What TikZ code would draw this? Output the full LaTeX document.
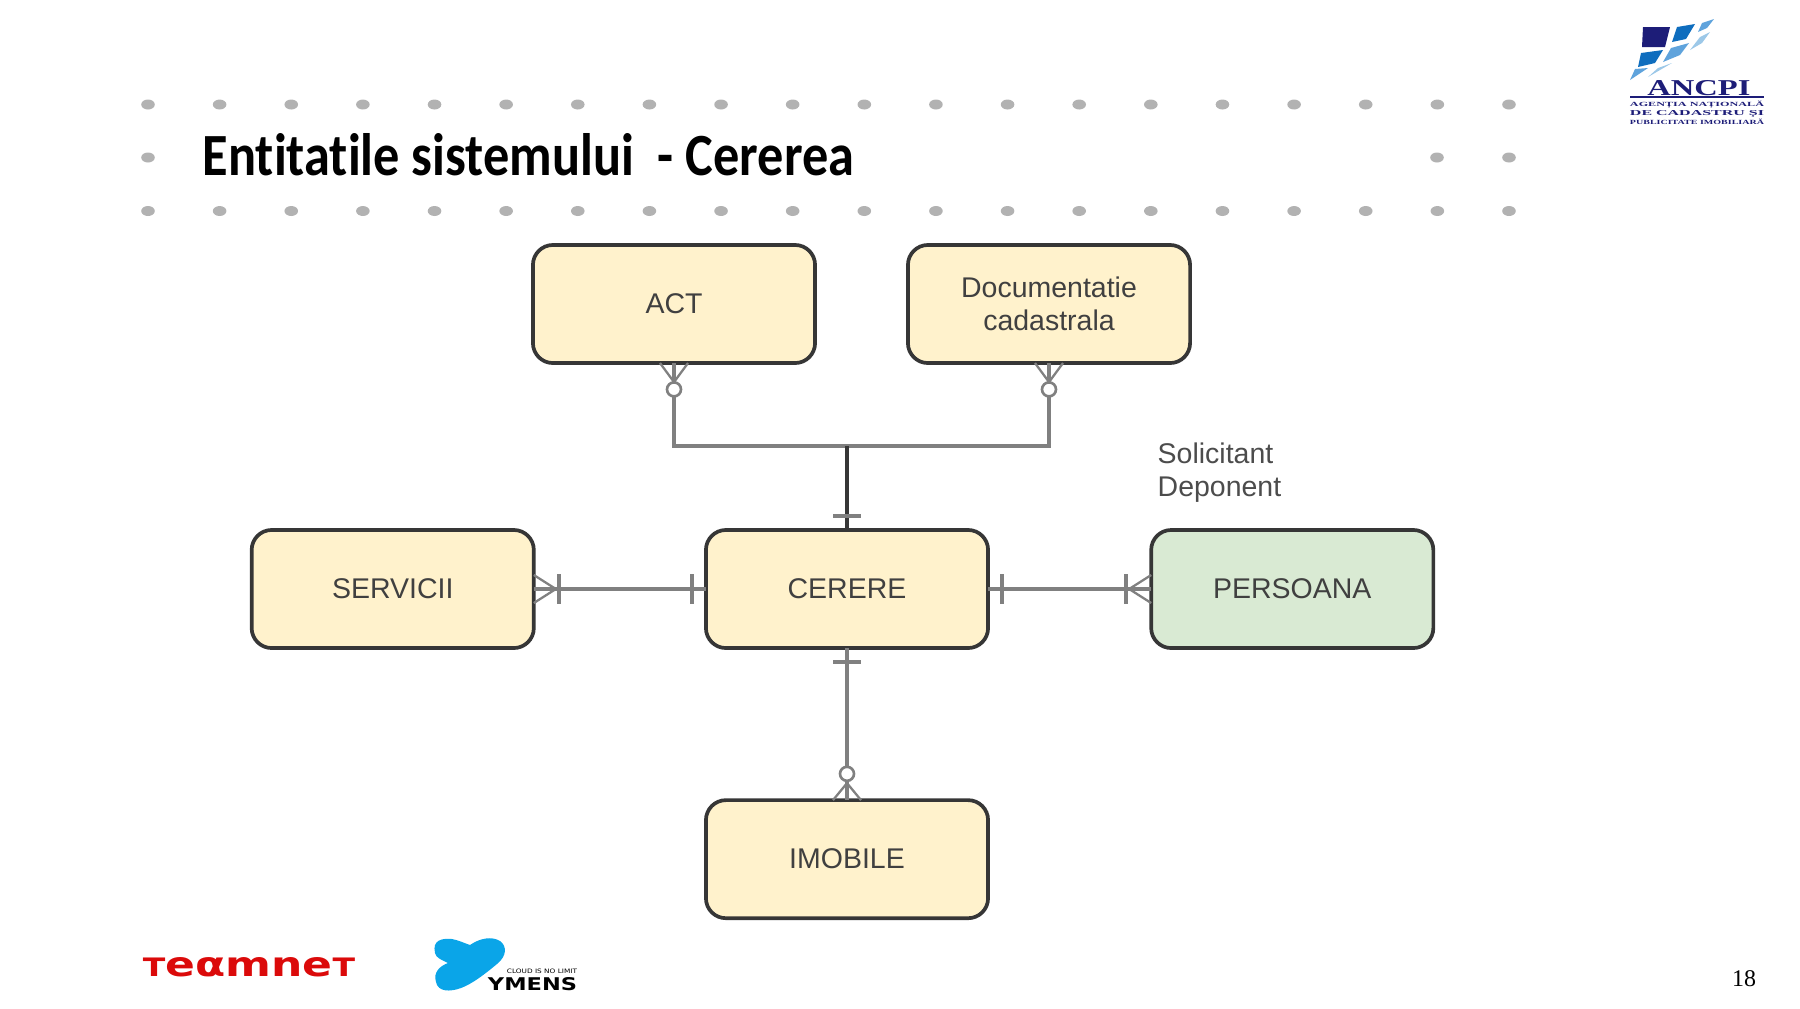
\documentclass[tikz,border=0pt]{standalone}
\usepackage{fontspec}
\setmainfont{Liberation Sans}
\newfontfamily\titlefont[Ligatures=NoCommon]{Carlito}
\newfontfamily\logofont{Liberation Serif}
\newfontfamily\wordfont{DejaVu Sans}
\usetikzlibrary{calc,positioning,arrows.meta}
\definecolor{entityfill}{HTML}{FFF2CC}
\definecolor{personfill}{HTML}{D9EAD3}
\definecolor{entityline}{HTML}{363636}
\definecolor{relline}{HTML}{808080}
\definecolor{dotgray}{HTML}{B2B2B2}
\definecolor{navyblue}{HTML}{1D1D78}
\definecolor{midblue}{HTML}{0E6DBE}
\definecolor{softblue}{HTML}{5FA3DC}
\definecolor{paleblue}{HTML}{9CC8E8}
\definecolor{teamred}{HTML}{DB0A0A}
\definecolor{ymensblue}{HTML}{0AA5E8}

\begin{document}
\begin{tikzpicture}[x=0.01cm, y=-0.01cm, font=\fontsize{8.1}{9.5}\selectfont,
  entity/.style={draw=entityline, line width=1.05pt, rounded corners=0.2cm, fill=entityfill,
    minimum width=2.82cm, minimum height=1.18cm, align=center, inner sep=0pt, outer sep=0pt, text=black!75},
  rel/.style={draw=relline, line width=1pt},
  mainrel/.style={draw=entityline, line width=1.1pt},
  foot/.style={draw=relline, line width=0.65pt},
  bar/.style={draw=relline, line width=1pt},
  ring/.style={circle, draw=relline, fill=white, line width=0.75pt, minimum size=0.14cm, inner sep=0pt},
  logotext/.style={inner sep=0pt, outer sep=0pt}]
  \useasboundingbox (0,0) rectangle (1800,1008);

  % dots round the title
  \foreach \i in {0,...,19} {
    \fill[dotgray] (148+71.63*\i,104.5) ellipse (6.8 and 5);
    \fill[dotgray] (148+71.63*\i,211) ellipse (6.8 and 5);
  }
  \foreach \xx in {148,1437,1509} {\fill[dotgray] (\xx,157.5) ellipse (6.8 and 5);}
  \node[anchor=base west, inner sep=0pt, font=\titlefont\bfseries\fontsize{17}{20}\selectfont] (title) at (202,175)
    {\resizebox{6.51cm}{.42cm}{Entitatile sistemului\ \ - Cererea}};

  % entities
  \node[entity] (cerere) at (847,589) {CERERE};
  \node[entity, left=1.72cm of cerere] (servicii) {SERVICII};
  \node[entity, right=1.63cm of cerere, fill=personfill] (persoana) {PERSOANA};
  \node[entity, below=1.52cm of cerere] (imobile) {IMOBILE};
  \node[entity] (act) at (674,304) {ACT};
  \node[entity] (doc) at (1049,304) {Documentatie\\cadastrala};
  \node[anchor=north west, inner sep=0pt, align=left, text=black!70] (rol) at (1157,442) {Solicitant\\Deponent};

  % relations
  \coordinate (bus) at (847,446);
  \draw[rel] (act.south) |- (bus) -| (doc.south);
  \draw[mainrel] (bus) -- (cerere.north);
  \draw[bar] ([xshift=-.14cm,yshift=.14cm]cerere.north) -- ([xshift=.14cm,yshift=.14cm]cerere.north);
  \draw[foot] ([xshift=-.14cm]act.south) -- ([yshift=-.19cm]act.south) -- ([xshift=.14cm]act.south);
  \draw[foot] ([xshift=-.14cm]doc.south) -- ([yshift=-.19cm]doc.south) -- ([xshift=.14cm]doc.south);
  \node[ring, below=.18cm of act.south] (ringact) {};
  \node[ring, below=.18cm of doc.south] (ringdoc) {};

  \draw[rel] (servicii) -- (cerere);
  \draw[foot] ([yshift=.14cm]servicii.east) -- ([xshift=.22cm]servicii.east) -- ([yshift=-.14cm]servicii.east);
  \draw[bar] ([xshift=.25cm,yshift=.15cm]servicii.east) -- ([xshift=.25cm,yshift=-.15cm]servicii.east);
  \draw[bar] ([xshift=-.14cm,yshift=.15cm]cerere.west) -- ([xshift=-.14cm,yshift=-.15cm]cerere.west);

  \draw[rel] (cerere) -- (persoana);
  \draw[bar] ([xshift=.14cm,yshift=.15cm]cerere.east) -- ([xshift=.14cm,yshift=-.15cm]cerere.east);
  \draw[foot] ([yshift=.14cm]persoana.west) -- ([xshift=-.22cm]persoana.west) -- ([yshift=-.14cm]persoana.west);
  \draw[bar] ([xshift=-.25cm,yshift=.15cm]persoana.west) -- ([xshift=-.25cm,yshift=-.15cm]persoana.west);

  \draw[rel] (cerere) -- (imobile);
  \draw[bar] ([xshift=-.14cm,yshift=-.14cm]cerere.south) -- ([xshift=.14cm,yshift=-.14cm]cerere.south);
  \draw[foot] ([xshift=-.14cm]imobile.north) -- ([yshift=.17cm]imobile.north) -- ([xshift=.14cm]imobile.north);
  \node[ring, above=.18cm of imobile.north] (ringimo) {};

  % logo top right
  \fill[navyblue] (1643,27) -- (1670,27) -- (1665,47) -- (1642,47) -- cycle;
  \fill[midblue] (1677,27) -- (1695,24) -- (1686,39) -- (1672,42) -- cycle;
  \fill[softblue] (1702,23) -- (1714,19) -- (1707,28) -- (1698,32) -- cycle;
  \fill[midblue] (1641,53) -- (1663,50) -- (1655,63) -- (1638,67) -- cycle;
  \fill[softblue] (1671,48) -- (1689,43) -- (1680,55) -- (1663,62) -- cycle;
  \fill[paleblue] (1700,37) -- (1710,32) -- (1702,43) -- (1690,50) -- cycle;
  \fill[softblue] (1635,69) -- (1648,68) -- (1630,80) -- cycle;
  \fill[paleblue] (1672,63) -- (1648,77) -- (1658,68) -- cycle;
  \node[logotext, text=navyblue, font=\logofont\bfseries] (ancpi) at (1699,88.5) {\resizebox{1.03cm}{.15cm}{ANCPI}};
  \draw[navyblue, line width=.3pt] (1630,97) -- (1764,97);
  \node[logotext, text=navyblue, font=\logofont\bfseries] (ancpia) at (1697,105) {\resizebox{1.34cm}{.055cm}{AGENȚIA NAȚIONALĂ}};
  \node[logotext, text=navyblue, font=\logofont\bfseries] (ancpib) at (1697,114) {\resizebox{1.34cm}{.05cm}{DE CADASTRU ȘI}};
  \node[logotext, text=navyblue, font=\logofont\bfseries] (ancpic) at (1697,121.5) {\resizebox{1.34cm}{.055cm}{PUBLICITATE IMOBILIARĂ}};

  % logos at the bottom
  \node[logotext, text=teamred, font=\wordfont\bfseries] (teamnet) at (249,967.5) {\resizebox{2.12cm}{.19cm}{\scalebox{.75}{T}eαmne\scalebox{.75}{T}}};
  \fill[ymensblue] (435,953) .. controls (432,940) and (442,938) .. (452,939)
    .. controls (458,940) and (464,943) .. (470,945)
    .. controls (480,938) and (492,936) .. (500,941)
    .. controls (507,946) and (507,956) .. (497,964)
    .. controls (485,974) and (472,984) .. (461,988)
    .. controls (450,992) and (438,992) .. (436,982)
    .. controls (433,972) and (440,966) .. (448,963)
    .. controls (442,960) and (436,958) .. (435,953) -- cycle;
  \node[logotext, font=\wordfont] (cloud) at (542,971.5) {\resizebox{.7cm}{.045cm}{CLOUD IS NO LIMIT}};
  \node[logotext, font=\wordfont\bfseries] (ymens) at (532.5,984.5) {\resizebox{.89cm}{.13cm}{YMENS}};

  \node[anchor=center, inner sep=0pt, font=\logofont\fontsize{6.8}{8}\selectfont] (page) at (1744,979) {18};
\end{tikzpicture}
\end{document}
